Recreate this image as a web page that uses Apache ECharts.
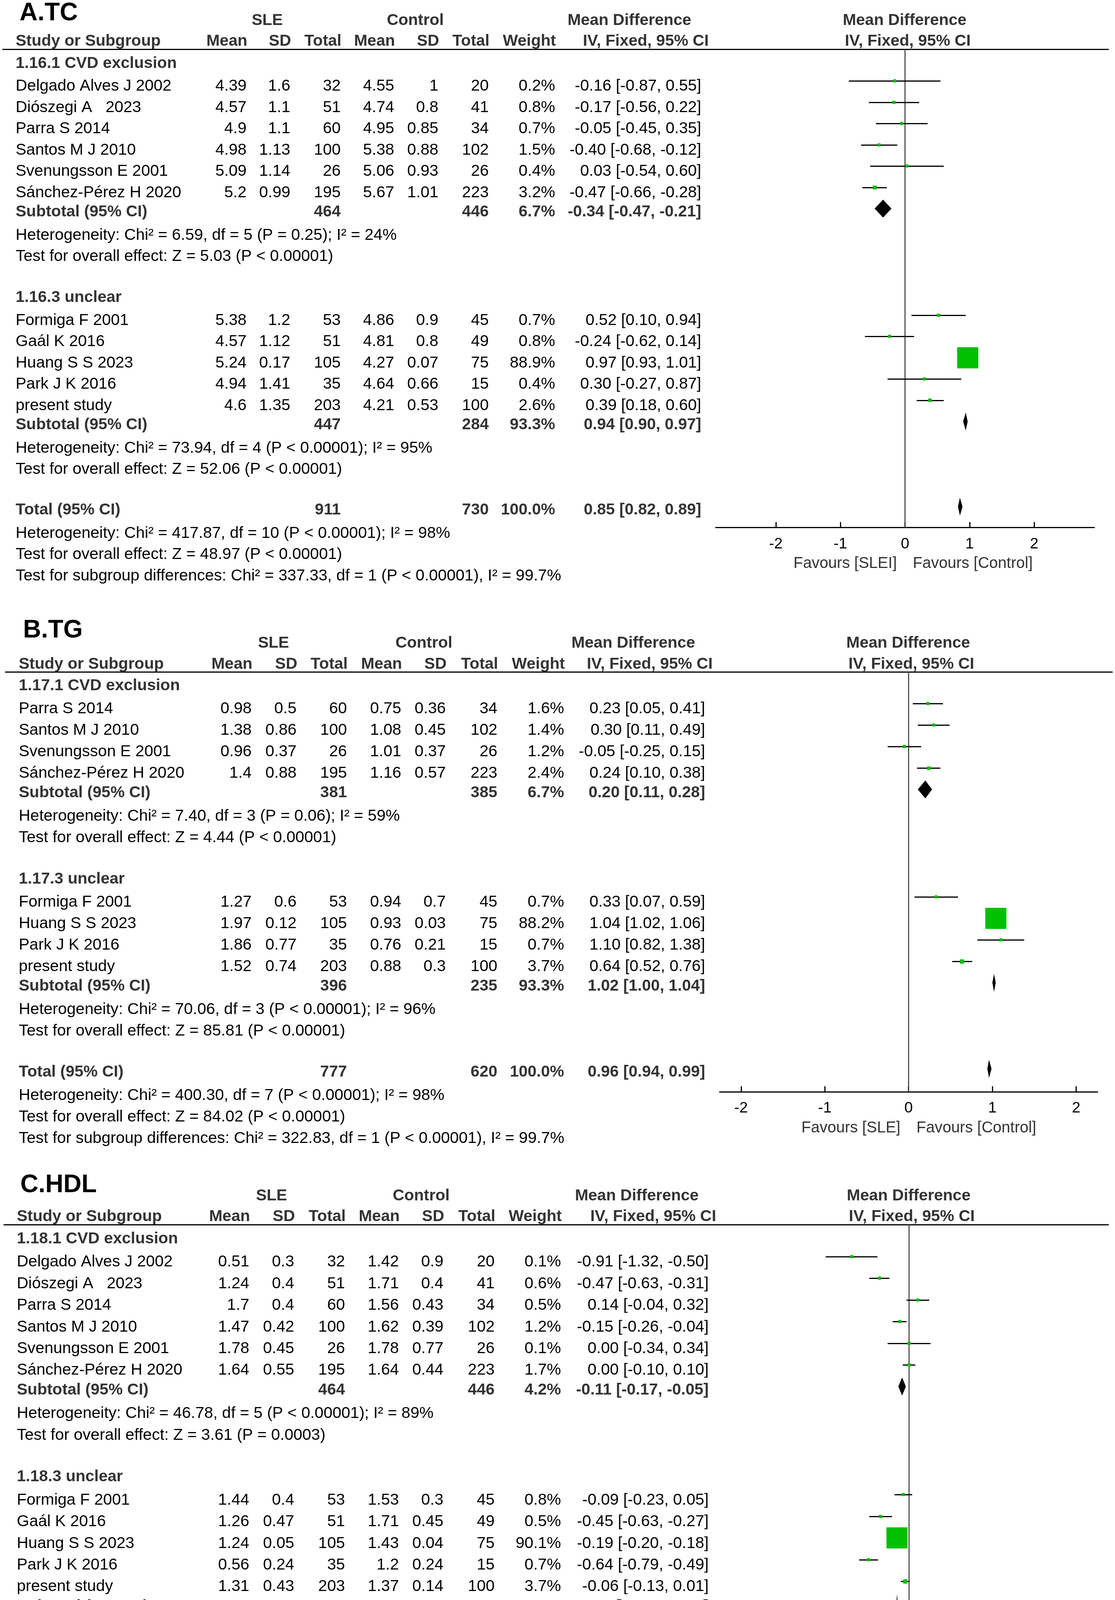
<!DOCTYPE html>
<html><head><meta charset="utf-8">
<script src="https://cdn.jsdelivr.net/npm/echarts@6/dist/echarts.min.js"></script>
<style>html,body{margin:0;padding:0;background:#fff}#c{width:2854px;height:4529px}</style>
</head><body><div id="c"></div>
<script>
// ===================== DATA =====================
const axisTickValues = [-2, -1, 0, 1, 2];
const headerCols = ['Mean', 'SD', 'Total', 'Mean', 'SD', 'Total', 'Weight'];

// ---- A. TC ----
const tcGroupLabels = ['1.16.1 CVD exclusion', '1.16.3 unclear'];
const tcGroupSizes = [6, 5];
const tcStudy = ['Delgado Alves J 2002', 'Diószegi A   2023', 'Parra S 2014', 'Santos M J 2010', 'Svenungsson E 2001', 'Sánchez-Pérez H 2020', 'Formiga F 2001', 'Gaál K 2016', 'Huang S S 2023', 'Park J K 2016', 'present study'];
const tcSleMean = [4.39, 4.57, 4.9, 4.98, 5.09, 5.2, 5.38, 4.57, 5.24, 4.94, 4.6];
const tcSleSD = [1.6, 1.1, 1.1, 1.13, 1.14, 0.99, 1.2, 1.12, 0.17, 1.41, 1.35];
const tcSleN = [32, 51, 60, 100, 26, 195, 53, 51, 105, 35, 203];
const tcCtlMean = [4.55, 4.74, 4.95, 5.38, 5.06, 5.67, 4.86, 4.81, 4.27, 4.64, 4.21];
const tcCtlSD = [1, 0.8, 0.85, 0.88, 0.93, 1.01, 0.9, 0.8, 0.07, 0.66, 0.53];
const tcCtlN = [20, 41, 34, 102, 26, 223, 45, 49, 75, 15, 100];
const tcWeight = [0.2, 0.8, 0.7, 1.5, 0.4, 3.2, 0.7, 0.8, 88.9, 0.4, 2.6];
const tcMD = [-0.16, -0.17, -0.05, -0.40, 0.03, -0.47, 0.52, -0.24, 0.97, 0.30, 0.39];
const tcLo = [-0.87, -0.56, -0.45, -0.68, -0.54, -0.66, 0.10, -0.62, 0.93, -0.27, 0.18];
const tcHi = [0.55, 0.22, 0.35, -0.12, 0.60, -0.28, 0.94, 0.14, 1.01, 0.87, 0.60];
// summaries: [subgroup 1, subgroup 2, total]
const tcSumSleN = [464, 447, 911];
const tcSumCtlN = [446, 284, 730];
const tcSumWeight = [6.7, 93.3, 100.0];
const tcSumMD = [-0.34, 0.94, 0.85];
const tcSumLo = [-0.47, 0.90, 0.82];
const tcSumHi = [-0.21, 0.97, 0.89];
const tcHet = ['Heterogeneity: Chi² = 6.59, df = 5 (P = 0.25); I² = 24%', 'Heterogeneity: Chi² = 73.94, df = 4 (P < 0.00001); I² = 95%', 'Heterogeneity: Chi² = 417.87, df = 10 (P < 0.00001); I² = 98%'];
const tcZ = ['Test for overall effect: Z = 5.03 (P < 0.00001)', 'Test for overall effect: Z = 52.06 (P < 0.00001)', 'Test for overall effect: Z = 48.97 (P < 0.00001)'];
const tcSubTest = 'Test for subgroup differences: Chi² = 337.33, df = 1 (P < 0.00001), I² = 99.7%';

// ---- B. TG ----
const tgGroupLabels = ['1.17.1 CVD exclusion', '1.17.3 unclear'];
const tgGroupSizes = [4, 4];
const tgStudy = ['Parra S 2014', 'Santos M J 2010', 'Svenungsson E 2001', 'Sánchez-Pérez H 2020', 'Formiga F 2001', 'Huang S S 2023', 'Park J K 2016', 'present study'];
const tgSleMean = [0.98, 1.38, 0.96, 1.4, 1.27, 1.97, 1.86, 1.52];
const tgSleSD = [0.5, 0.86, 0.37, 0.88, 0.6, 0.12, 0.77, 0.74];
const tgSleN = [60, 100, 26, 195, 53, 105, 35, 203];
const tgCtlMean = [0.75, 1.08, 1.01, 1.16, 0.94, 0.93, 0.76, 0.88];
const tgCtlSD = [0.36, 0.45, 0.37, 0.57, 0.7, 0.03, 0.21, 0.3];
const tgCtlN = [34, 102, 26, 223, 45, 75, 15, 100];
const tgWeight = [1.6, 1.4, 1.2, 2.4, 0.7, 88.2, 0.7, 3.7];
const tgMD = [0.23, 0.30, -0.05, 0.24, 0.33, 1.04, 1.10, 0.64];
const tgLo = [0.05, 0.11, -0.25, 0.10, 0.07, 1.02, 0.82, 0.52];
const tgHi = [0.41, 0.49, 0.15, 0.38, 0.59, 1.06, 1.38, 0.76];
const tgSumSleN = [381, 396, 777];
const tgSumCtlN = [385, 235, 620];
const tgSumWeight = [6.7, 93.3, 100.0];
const tgSumMD = [0.20, 1.02, 0.96];
const tgSumLo = [0.11, 1.00, 0.94];
const tgSumHi = [0.28, 1.04, 0.99];
const tgHet = ['Heterogeneity: Chi² = 7.40, df = 3 (P = 0.06); I² = 59%', 'Heterogeneity: Chi² = 70.06, df = 3 (P < 0.00001); I² = 96%', 'Heterogeneity: Chi² = 400.30, df = 7 (P < 0.00001); I² = 98%'];
const tgZ = ['Test for overall effect: Z = 4.44 (P < 0.00001)', 'Test for overall effect: Z = 85.81 (P < 0.00001)', 'Test for overall effect: Z = 84.02 (P < 0.00001)'];
const tgSubTest = 'Test for subgroup differences: Chi² = 322.83, df = 1 (P < 0.00001), I² = 99.7%';

// ---- C. HDL ----
const hdlGroupLabels = ['1.18.1 CVD exclusion', '1.18.3 unclear'];
const hdlGroupSizes = [6, 5];
const hdlStudy = ['Delgado Alves J 2002', 'Diószegi A   2023', 'Parra S 2014', 'Santos M J 2010', 'Svenungsson E 2001', 'Sánchez-Pérez H 2020', 'Formiga F 2001', 'Gaál K 2016', 'Huang S S 2023', 'Park J K 2016', 'present study'];
const hdlSleMean = [0.51, 1.24, 1.7, 1.47, 1.78, 1.64, 1.44, 1.26, 1.24, 0.56, 1.31];
const hdlSleSD = [0.3, 0.4, 0.4, 0.42, 0.45, 0.55, 0.4, 0.47, 0.05, 0.24, 0.43];
const hdlSleN = [32, 51, 60, 100, 26, 195, 53, 51, 105, 35, 203];
const hdlCtlMean = [1.42, 1.71, 1.56, 1.62, 1.78, 1.64, 1.53, 1.71, 1.43, 1.2, 1.37];
const hdlCtlSD = [0.9, 0.4, 0.43, 0.39, 0.77, 0.44, 0.3, 0.45, 0.04, 0.24, 0.14];
const hdlCtlN = [20, 41, 34, 102, 26, 223, 45, 49, 75, 15, 100];
const hdlWeight = [0.1, 0.6, 0.5, 1.2, 0.1, 1.7, 0.8, 0.5, 90.1, 0.7, 3.7];
const hdlMD = [-0.91, -0.47, 0.14, -0.15, 0.00, 0.00, -0.09, -0.45, -0.19, -0.64, -0.06];
const hdlLo = [-1.32, -0.63, -0.04, -0.26, -0.34, -0.10, -0.23, -0.63, -0.20, -0.79, -0.13];
const hdlHi = [-0.50, -0.31, 0.32, -0.04, 0.34, 0.10, 0.05, -0.27, -0.18, -0.49, 0.01];
const hdlSumSleN = [464, 447, 911];
const hdlSumCtlN = [446, 284, 730];
const hdlSumWeight = [4.2, 95.8, 100.0];
const hdlSumMD = [-0.11, -0.19, -0.19];
const hdlSumLo = [-0.17, -0.20, -0.20];
const hdlSumHi = [-0.05, -0.18, -0.17];
const hdlHet = ['Heterogeneity: Chi² = 46.78, df = 5 (P < 0.00001); I² = 89%', 'Heterogeneity: Chi² = 62.14, df = 4 (P < 0.00001); I² = 94%', 'Heterogeneity: Chi² = 114.84, df = 10 (P < 0.00001); I² = 91%'];
const hdlZ = ['Test for overall effect: Z = 3.61 (P = 0.0003)', 'Test for overall effect: Z = 29.00 (P < 0.00001)', 'Test for overall effect: Z = 29.12 (P < 0.00001)'];
const hdlSubTest = 'Test for subgroup differences: Chi² = 5.92, df = 1 (P = 0.01), I² = 83.1%';

// ===================== BUILD =====================
const TC = {groupLabels: tcGroupLabels, groupSizes: tcGroupSizes, study: tcStudy, sm: tcSleMean, ssd: tcSleSD, sn: tcSleN, cm: tcCtlMean, csd: tcCtlSD, cn: tcCtlN, w: tcWeight, md: tcMD, lo: tcLo, hi: tcHi, sSn: tcSumSleN, sCn: tcSumCtlN, sW: tcSumWeight, sMd: tcSumMD, sLo: tcSumLo, sHi: tcSumHi, het: tcHet, z: tcZ, sub: tcSubTest};
const TG = {groupLabels: tgGroupLabels, groupSizes: tgGroupSizes, study: tgStudy, sm: tgSleMean, ssd: tgSleSD, sn: tgSleN, cm: tgCtlMean, csd: tgCtlSD, cn: tgCtlN, w: tgWeight, md: tgMD, lo: tgLo, hi: tgHi, sSn: tgSumSleN, sCn: tgSumCtlN, sW: tgSumWeight, sMd: tgSumMD, sLo: tgSumLo, sHi: tgSumHi, het: tgHet, z: tgZ, sub: tgSubTest};
const HDL = {groupLabels: hdlGroupLabels, groupSizes: hdlGroupSizes, study: hdlStudy, sm: hdlSleMean, ssd: hdlSleSD, sn: hdlSleN, cm: hdlCtlMean, csd: hdlCtlSD, cn: hdlCtlN, w: hdlWeight, md: hdlMD, lo: hdlLo, hi: hdlHi, sSn: hdlSumSleN, sCn: hdlSumCtlN, sW: hdlSumWeight, sMd: hdlSumMD, sLo: hdlSumLo, sHi: hdlSumHi, het: hdlHet, z: hdlZ, sub: hdlSubTest};

const panels = [
  {title: 'A.TC', titleX: 50, titleBase: 56, lineY: 125.5, lineX0: 6, lineX1: 2838, base: 180.5, u: 54.5, left: 40,
   cols: [631, 743, 872, 1009, 1122, 1251, 1421, 1795], x0: 1832, x1: 2801, xmin: -2.93, xmax: 2.93, axisY: 1350.5,
   favL: 'Favours [SLEI]', favR: 'Favours [Control]', d: TC},
  {title: 'B.TG', titleX: 59, titleBase: 1636.5, lineY: 1720, lineX0: 13, lineX1: 2848, base: 1774, u: 55, left: 48,
   cols: [644, 759, 888, 1027, 1141, 1273, 1444, 1805], x0: 1842, x1: 2809.4, xmin: -2.256, xmax: 2.256, axisY: 2794.8,
   favL: 'Favours [SLE]', favR: 'Favours [Control]', d: TG},
  {title: 'C.HDL', titleX: 52, titleBase: 3056, lineY: 3134.5, lineX0: 9, lineX1: 2838, base: 3189.6, u: 55.4, left: 43,
   cols: [638, 753, 883, 1021, 1135, 1266, 1436, 1814], x0: 1852.4, x1: 2801.3, xmin: -2.935, xmax: 2.935, axisY: 4376.7,
   favL: 'Favours [SLE]', favR: 'Favours [Control]', d: HDL}
];

const FONT = '"Liberation Sans", Arial, Helvetica, sans-serif';
const FS = 41;
const HC = '#333333';
const BASE_K = 0.34;
function txt(x, yBase, s, o) {
  o = o || {};
  const fs = o.fs || FS;
  return {type: 'text', x: x, y: yBase - BASE_K * fs, silent: true, z: 10,
    style: {text: s, font: (o.bold ? 'bold ' : '') + fs + 'px ' + FONT, fill: o.color || '#000', align: o.align || 'left', verticalAlign: 'middle'}};
}
const f2 = v => v.toFixed(2);
const ciText = (m, l, h) => f2(m) + ' [' + f2(l) + ', ' + f2(h) + ']';

const graphic = [], grids = [], xAxes = [], yAxes = [], series = [];

panels.forEach((P, pi) => {
  const D = P.d, c = P.cols;
  const bl = idx => P.base + idx * P.u;
  const zx = P.x0 + (0 - P.xmin) / (P.xmax - P.xmin) * (P.x1 - P.x0);
  graphic.push(txt(P.titleX, P.titleBase, P.title, {bold: true, fs: 64}));
  graphic.push({type: 'line', silent: true, shape: {x1: P.lineX0, y1: Math.round(P.lineY) + 0.5, x2: P.lineX1, y2: Math.round(P.lineY) + 0.5}, style: {stroke: '#000', lineWidth: 3}});
  const h1 = P.lineY - 59, h2 = P.lineY - 5.5;
  graphic.push(txt(c[2] - 188, h1, 'SLE', {bold: 1, color: HC, align: 'center'}));
  graphic.push(txt(c[5] - 188, h1, 'Control', {bold: 1, color: HC, align: 'center'}));
  graphic.push(txt(c[7] - 184, h1, 'Mean Difference', {bold: 1, color: HC, align: 'center'}));
  graphic.push(txt(zx - 1, h1, 'Mean Difference', {bold: 1, color: HC, align: 'center'}));
  graphic.push(txt(P.left, h2, 'Study or Subgroup', {bold: 1, color: HC}));
  headerCols.forEach((h, i) => graphic.push(txt(c[i] + 2, h2, h, {bold: 1, color: HC, align: 'right'})));
  graphic.push(txt(c[7] - 142, h2, 'IV, Fixed, 95% CI', {bold: 1, color: HC, align: 'center'}));
  graphic.push(txt(zx + 7, h2, 'IV, Fixed, 95% CI', {bold: 1, color: HC, align: 'center'}));

  const studyData = [], diamondData = [];
  let idx = 0, k = 0;
  const summaryRow = (label, si, idxRow) => {
    const y = bl(idxRow) - 5;
    const B = {bold: 1, color: HC, align: 'right'};
    graphic.push(txt(P.left, y, label, {bold: 1, color: HC}));
    graphic.push(txt(c[2], y, String(D.sSn[si]), B));
    graphic.push(txt(c[5], y, String(D.sCn[si]), B));
    graphic.push(txt(c[6], y, D.sW[si].toFixed(1) + '%', B));
    graphic.push(txt(c[7], y, ciText(D.sMd[si], D.sLo[si], D.sHi[si]), B));
    diamondData.push([D.sMd[si], idxRow, D.sLo[si], D.sHi[si]]);
  };
  for (let gi = 0; gi < D.groupSizes.length; gi++) {
    graphic.push(txt(P.left, bl(idx) - 4, D.groupLabels[gi], {bold: 1, color: HC}));
    idx++;
    for (let j = 0; j < D.groupSizes[gi]; j++, k++, idx++) {
      const y = bl(idx);
      const R = {align: 'right'};
      graphic.push(txt(P.left, y, D.study[k]));
      graphic.push(txt(c[0], y, String(D.sm[k]), R));
      graphic.push(txt(c[1], y, String(D.ssd[k]), R));
      graphic.push(txt(c[2], y, String(D.sn[k]), R));
      graphic.push(txt(c[3], y, String(D.cm[k]), R));
      graphic.push(txt(c[4], y, String(D.csd[k]), R));
      graphic.push(txt(c[5], y, String(D.cn[k]), R));
      graphic.push(txt(c[6], y, D.w[k].toFixed(1) + '%', R));
      graphic.push(txt(c[7], y, ciText(D.md[k], D.lo[k], D.hi[k]), R));
      studyData.push([D.md[k], idx, D.lo[k], D.hi[k], D.w[k]]);
    }
    summaryRow('Subtotal (95% CI)', gi, idx); idx++;
    graphic.push(txt(P.left, bl(idx), D.het[gi])); idx++;
    graphic.push(txt(P.left, bl(idx), D.z[gi])); idx++;
    idx++;
  }
  summaryRow('Total (95% CI)', 2, idx); idx++;
  graphic.push(txt(P.left, bl(idx), D.het[2])); idx++;
  graphic.push(txt(P.left, bl(idx), D.z[2])); idx++;
  graphic.push(txt(P.left, bl(idx), D.sub)); idx++;

  // favours labels
  graphic.push(txt(zx - 21, P.axisY + 106.5, P.favL, {color: HC, align: 'right', fs: 40}));
  graphic.push(txt(zx + 20, P.axisY + 106.5, P.favR, {color: HC, align: 'left', fs: 40}));

  // plot grid
  const c0 = P.base - 28;
  const ymin = (P.lineY - c0) / P.u, ymax = (P.axisY - c0) / P.u;
  grids.push({left: P.x0, top: P.lineY, width: P.x1 - P.x0, height: P.axisY - P.lineY, containLabel: false});
  xAxes.push({type: 'value', gridIndex: pi, min: P.xmin, max: P.xmax, position: 'bottom',
    axisLine: {onZero: false, lineStyle: {color: '#000', width: 3}},
    axisTick: {inside: true, length: 14, lineStyle: {color: '#000', width: 3}, customValues: axisTickValues},
    axisLabel: {customValues: axisTickValues, fontSize: 39, color: '#000', fontFamily: FONT, margin: 23},
    splitLine: {show: false}});
  yAxes.push({type: 'value', gridIndex: pi, inverse: true, min: ymin, max: ymax, show: false, splitLine: {show: false}});

  series.push({type: 'line', xAxisIndex: pi, yAxisIndex: pi, data: [[0, ymin], [0, ymax]], symbol: 'none', silent: true, z: 1,
    lineStyle: {color: '#333', width: 2.5}});
  series.push({type: 'custom', xAxisIndex: pi, yAxisIndex: pi, data: studyData, silent: true, z: 3,
    encode: {x: [0, 2, 3], y: 1},
    renderItem: (params, api) => {
      const yv = api.value(1);
      const a = api.coord([api.value(2), yv]);
      const b = api.coord([api.value(3), yv]);
      const m = api.coord([api.value(0), yv]);
      const yy = Math.round(a[1]) + 0.5;
      const s = Math.round(Math.max(8, 57 * Math.sqrt(api.value(4) / 100)));
      return {type: 'group', children: [
        {type: 'line', shape: {x1: a[0], y1: yy, x2: b[0], y2: yy}, style: {stroke: '#000', lineWidth: 3}},
        {type: 'rect', shape: {x: Math.round(m[0] - s / 2), y: Math.round(m[1] - s / 2), width: s, height: s}, style: {fill: '#00c000'}}
      ]};
    }});
  series.push({type: 'custom', xAxisIndex: pi, yAxisIndex: pi, data: diamondData, silent: true, z: 4,
    encode: {x: [0, 2, 3], y: 1},
    renderItem: (params, api) => {
      const yv = api.value(1);
      const l = api.coord([api.value(2), yv]);
      const h = api.coord([api.value(3), yv]);
      const m = api.coord([api.value(0), yv]);
      return {type: 'polygon', shape: {points: [[l[0], m[1]], [m[0], m[1] - 23], [h[0], m[1]], [m[0], m[1] + 23]]}, style: {fill: '#000'}};
    }});
});

const chart = echarts.init(document.getElementById('c'), null, {renderer: 'canvas'});
chart.setOption({animation: false, backgroundColor: '#fff', grid: grids, xAxis: xAxes, yAxis: yAxes, series: series, graphic: graphic});
</script></body></html>
